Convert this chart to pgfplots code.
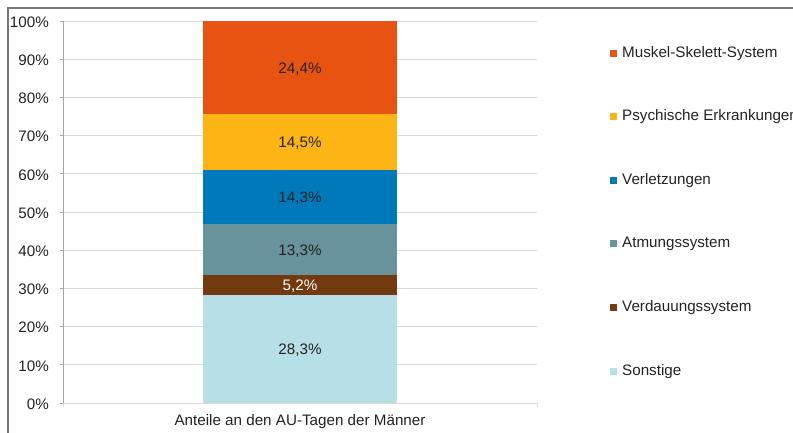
\documentclass[border=0pt]{standalone}
\usepackage{fontspec}
\setmainfont{Liberation Sans}
\usepackage{pgfplots}
\pgfplotsset{compat=1.18}
\definecolor{cMus}{HTML}{E95311}
\definecolor{cPsy}{HTML}{FDB515}
\definecolor{cVer}{HTML}{0079BA}
\definecolor{cAtm}{HTML}{68929C}
\definecolor{cVed}{HTML}{733A0F}
\definecolor{cSon}{HTML}{B7DFE7}
\definecolor{cGrid}{HTML}{D9D9D9}
\definecolor{cAxis}{HTML}{A6A6A6}
\definecolor{cFrame}{HTML}{767676}
\definecolor{cText}{HTML}{222222}
\newcommand{\chfont}{\fontsize{15.2}{18}\selectfont}
\begin{document}
\begin{tikzpicture}[x=1pt,y=1pt]
\useasboundingbox (0,0) rectangle (793,433);
\draw[color=cFrame, line width=1.6pt] (8,-20) -- (8,425) -- (820,425);
\begin{axis}[
  at={(63pt,30pt)}, anchor=south west,
  scale only axis, width=474pt, height=382pt,
  ybar stacked, bar width=194pt,
  xmin=-1, xmax=1, ymin=0, ymax=100,
  axis x line=bottom, axis y line=left,
  axis line style={-},
  x axis line style={draw=cGrid, line width=0.8pt},
  y axis line style={draw=cAxis, line width=0.8pt},
  ytick={0,10,...,100},
  yticklabel={\pgfmathprintnumber{\tick}\%},
  /pgf/number format/assume math mode=true,
  ytick style={draw=cAxis, line width=0.8pt},
  tick align=outside, major tick length=3pt,
  yticklabel style={font=\chfont, text=cText, inner sep=0pt, xshift=-11pt, yshift=-1pt},
  ymajorgrids, grid style={draw=cGrid, line width=0.8pt},
  xtick=\empty,
  extra x ticks={-1,1}, extra x tick labels={},
  extra x tick style={major tick length=4pt, tick style={draw=cGrid, line width=0.8pt}},
  xlabel={Anteile an den AU-Tagen der Männer},
  xlabel style={at={(axis description cs:0.5,0)}, anchor=base, yshift=-22.5pt, font=\chfont, text=cText, inner sep=0pt},
  reverse legend,
  legend image code/.code={\fill[#1] (0pt,-3.5pt) rectangle (7pt,3.5pt);},
  legend style={at={(axis description cs:1.154,0.9346)}, anchor=north west,
    draw=none, fill=none, inner sep=0pt, font=\chfont, text=cText,
    column sep=5pt, row sep=49.6pt,
    nodes={inner sep=0pt, text height=11pt, text depth=3pt}},
  legend cell align=left,
]
\addplot[fill=cSon, draw=none] coordinates {(0,28.3)};
\addplot[fill=cVed, draw=none] coordinates {(0,5.2)};
\addplot[fill=cAtm, draw=none] coordinates {(0,13.3)};
\addplot[fill=cVer, draw=none] coordinates {(0,14.3)};
\addplot[fill=cPsy, draw=none] coordinates {(0,14.5)};
\addplot[fill=cMus, draw=none] coordinates {(0,24.4)};
\legend{Sonstige,Verdauungssystem,Atmungssystem,Verletzungen,Psychische Erkrankungen,Muskel-Skelett-System}
\end{axis}
\begin{axis}[
  at={(63pt,30pt)}, anchor=south west,
  scale only axis, width=474pt, height=382pt,
  xmin=-1, xmax=1, ymin=0, ymax=100, hide axis,
  point meta=explicit symbolic,
  nodes near coords={\pgfplotspointmeta\%},
  nodes near coords style={anchor=center, font=\chfont, inner sep=0pt, yshift=-1.5pt},
]
\addplot[draw=none, mark=none, nodes near coords style={text=cText}] coordinates {
  (0,14.15) [28,3]
  (0,40.15) [13,3]
  (0,53.95) [14,3]
  (0,68.35) [14,5]
  (0,87.8) [24,4]
};
\addplot[draw=none, mark=none, nodes near coords style={text=white}] coordinates {
  (0,30.9) [5,2]
};
\end{axis}
\end{tikzpicture}
\end{document}
